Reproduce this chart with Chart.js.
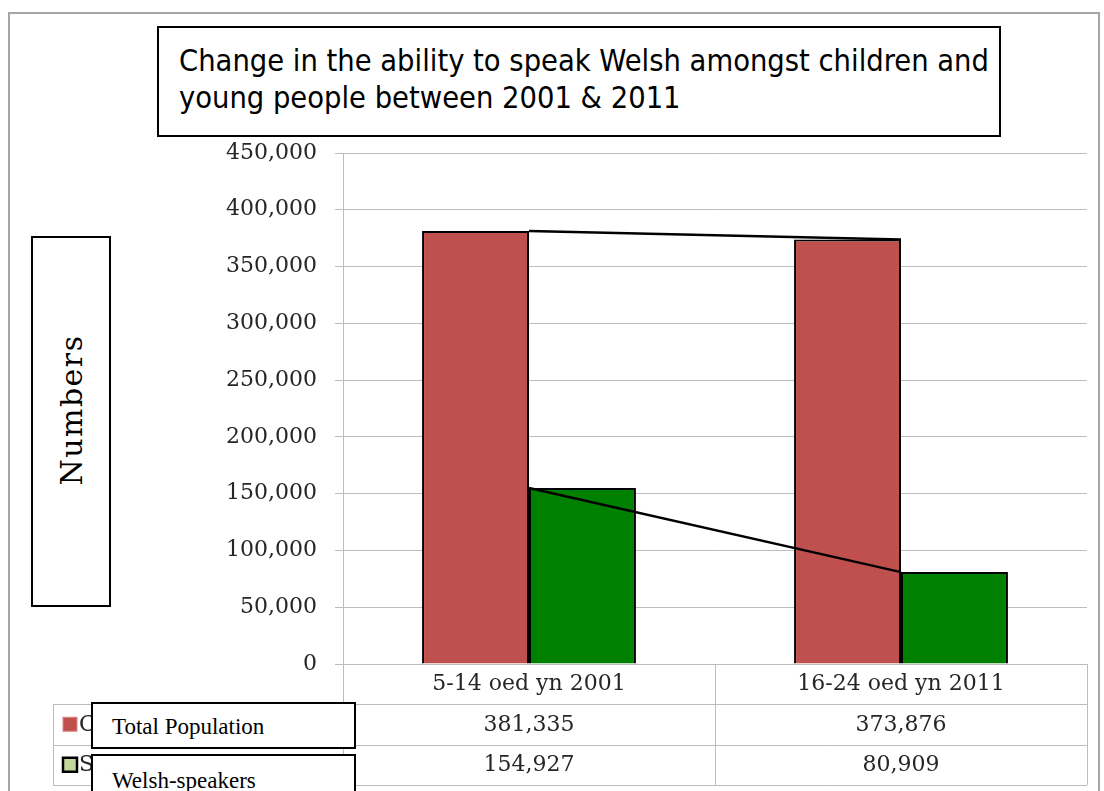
<!DOCTYPE html>
<html>
<head>
<meta charset="utf-8">
<script src="https://cdn.jsdelivr.net/npm/chart.js@4"></script>
<style>
    html, body { margin: 0; padding: 0; background: #fff; }
    #wrap { position: relative; width: 1104px; height: 791px; overflow: hidden; }
    #frame { position: absolute; left: 8px; top: 12px; width: 1092px; height: 800px; border: 2px solid #a6a6a6; box-sizing: border-box; }
    #chart { position: absolute; left: 0; top: 0; }
    .box { position: absolute; background: #fff; border: 2px solid #000; box-sizing: border-box; color: #000; }
    #titleBox { left: 157px; top: 26px; width: 844px; height: 111px; padding: 14px 0 0 20px;
        font-family: 'Liberation Sans Narrow', 'DejaVu Sans Condensed', sans-serif; font-size: 30.5px; line-height: 37px; }
    #yTitleBox { left: 31px; top: 236px; width: 80px; height: 371px; }
    #yTitleBox span { position: absolute; left: 50%; top: 47%; transform: translate(-50%, -50%) rotate(-90deg);
        font-family: 'DejaVu Serif', serif; font-size: 30px; letter-spacing: 1.5px; white-space: nowrap; }
    .series { left: 91px; width: 265px; padding-left: 19px; font-family: 'Liberation Serif', serif; font-size: 23px; line-height: 45px; }
</style>
</head>
<body>
<div id="wrap">
    <div id="frame"></div>
    <canvas id="chart" width="1104" height="791"></canvas>
    <div class="box" id="titleBox"></div>
    <div class="box" id="yTitleBox"><span></span></div>
    <div class="box series" id="series0" style="top:702px; height:47px;"></div>
    <div class="box series" id="series1" style="top:754px; height:60px; line-height:50px;"></div>
</div>
<script>
const titleText = 'Change in the ability to speak Welsh amongst children and young people between 2001 & 2011';
const yTitle = 'Numbers';
const categories = ['5-14 oed yn 2001', '16-24 oed yn 2011'];
const seriesNames = ['Total Population', 'Welsh-speakers'];
const rowLabels = ['Cyfanswm', 'Siaradwyr'];
const totalPopulation = [381335, 373876];
const welshSpeakers = [154927, 80909];
const yTicks = [0, 50000, 100000, 150000, 200000, 250000, 300000, 350000, 400000, 450000];

const barColors = ['#c0504d', '#008000'];
const keyColors = ['#c0504d', '#c3d69b'];
const gridColor = '#bdbdbd';
const textColor = '#262626';
const serif = "'DejaVu Serif', serif";

document.getElementById('titleBox').textContent = titleText;
document.querySelector('#yTitleBox span').textContent = yTitle;
document.getElementById('series0').textContent = seriesNames[0];
document.getElementById('series1').textContent = seriesNames[1];

const fmt = (v) => v.toLocaleString('en-US');

// data table under the plot (values row by row, columns follow the x scale)
const dataTable = {
    id: 'dataTable',
    afterDraw(chart) {
        const { ctx, chartArea: a, scales: { x } } = chart;
        const rowTop = a.bottom + 40;
        const rowH = 40.5;
        const tableLeft = 53;
        const mid = (x.getPixelForTick(0) + x.getPixelForTick(1)) / 2;
        const bottom = rowTop + rowH * 2;
        const line = (x1, y1, x2, y2) => {
            ctx.beginPath();
            ctx.moveTo(x1, y1);
            ctx.lineTo(x2, y2);
            ctx.stroke();
        };
        ctx.save();
        ctx.strokeStyle = gridColor;
        ctx.lineWidth = 1;
        for (let i = 0; i < 3; i++) {
            const y = Math.round(rowTop + rowH * i) + 0.5;
            line(tableLeft, y, a.right, y);
        }
        line(tableLeft + 0.5, rowTop, tableLeft + 0.5, bottom);
        [a.left, mid, a.right].forEach((c) => {
            const cx = Math.round(c) + 0.5;
            line(cx, a.bottom, cx, bottom);
        });

        const rows = [totalPopulation, welshSpeakers];
        ctx.font = '22px ' + serif;
        ctx.fillStyle = textColor;
        ctx.textBaseline = 'middle';
        rows.forEach((values, r) => {
            const cy = rowTop + rowH * r + rowH / 2;
            ctx.textAlign = 'center';
            values.forEach((v, i) => ctx.fillText(fmt(v), x.getPixelForTick(i), cy + 1));
            ctx.textAlign = 'left';
            ctx.fillStyle = textColor;
            ctx.fillText(rowLabels[r], 79, cy + 1);
            // legend key
            ctx.fillStyle = keyColors[r];
            ctx.fillRect(63, cy - 7, 14, 14);
            ctx.lineWidth = r === 0 ? 1 : 2.5;
            ctx.strokeStyle = r === 0 ? '#d98986' : '#000';
            ctx.strokeRect(63, cy - 7, 14, 14);
            ctx.strokeStyle = gridColor;
            ctx.lineWidth = 1;
            ctx.fillStyle = textColor;
        });
        ctx.restore();
    }
};

new Chart(document.getElementById('chart'), {
    type: 'bar',
    data: {
        labels: categories,
        datasets: [
            { type: 'line', data: totalPopulation, borderColor: '#000', borderWidth: 2.5, pointRadius: 0, order: 0 },
            { type: 'line', data: welshSpeakers, borderColor: '#000', borderWidth: 2.5, pointRadius: 0, order: 0 },
            { label: seriesNames[0], data: totalPopulation, backgroundColor: barColors[0], borderColor: '#000', borderWidth: 2, order: 1 },
            { label: seriesNames[1], data: welshSpeakers, backgroundColor: barColors[1], borderColor: '#000', borderWidth: 2, order: 1 }
        ]
    },
    options: {
        responsive: false,
        animation: false,
        layout: { padding: { left: 0, right: 17, top: 153, bottom: 0 } },
        datasets: { bar: { categoryPercentage: 0.575, barPercentage: 1 } },
        plugins: { legend: { display: false }, tooltip: { enabled: false } },
        scales: {
            x: {
                grid: { display: false, drawTicks: false },
                border: { display: true, color: gridColor },
                ticks: { color: textColor, font: { family: serif, size: 22 }, padding: 7, maxRotation: 0 },
                afterFit: (s) => { s.height = 127; }
            },
            y: {
                min: 0,
                max: 450000,
                afterBuildTicks: (s) => { s.ticks = yTicks.map((v) => ({ value: v })); },
                grid: { color: gridColor, tickLength: 8 },
                border: { display: true, color: gridColor },
                ticks: { color: textColor, font: { family: serif, size: 22 }, padding: 18, callback: (v) => fmt(v) },
                afterFit: (s) => { s.width = 343; }
            }
        }
    },
    plugins: [dataTable]
});
</script>
</body>
</html>
